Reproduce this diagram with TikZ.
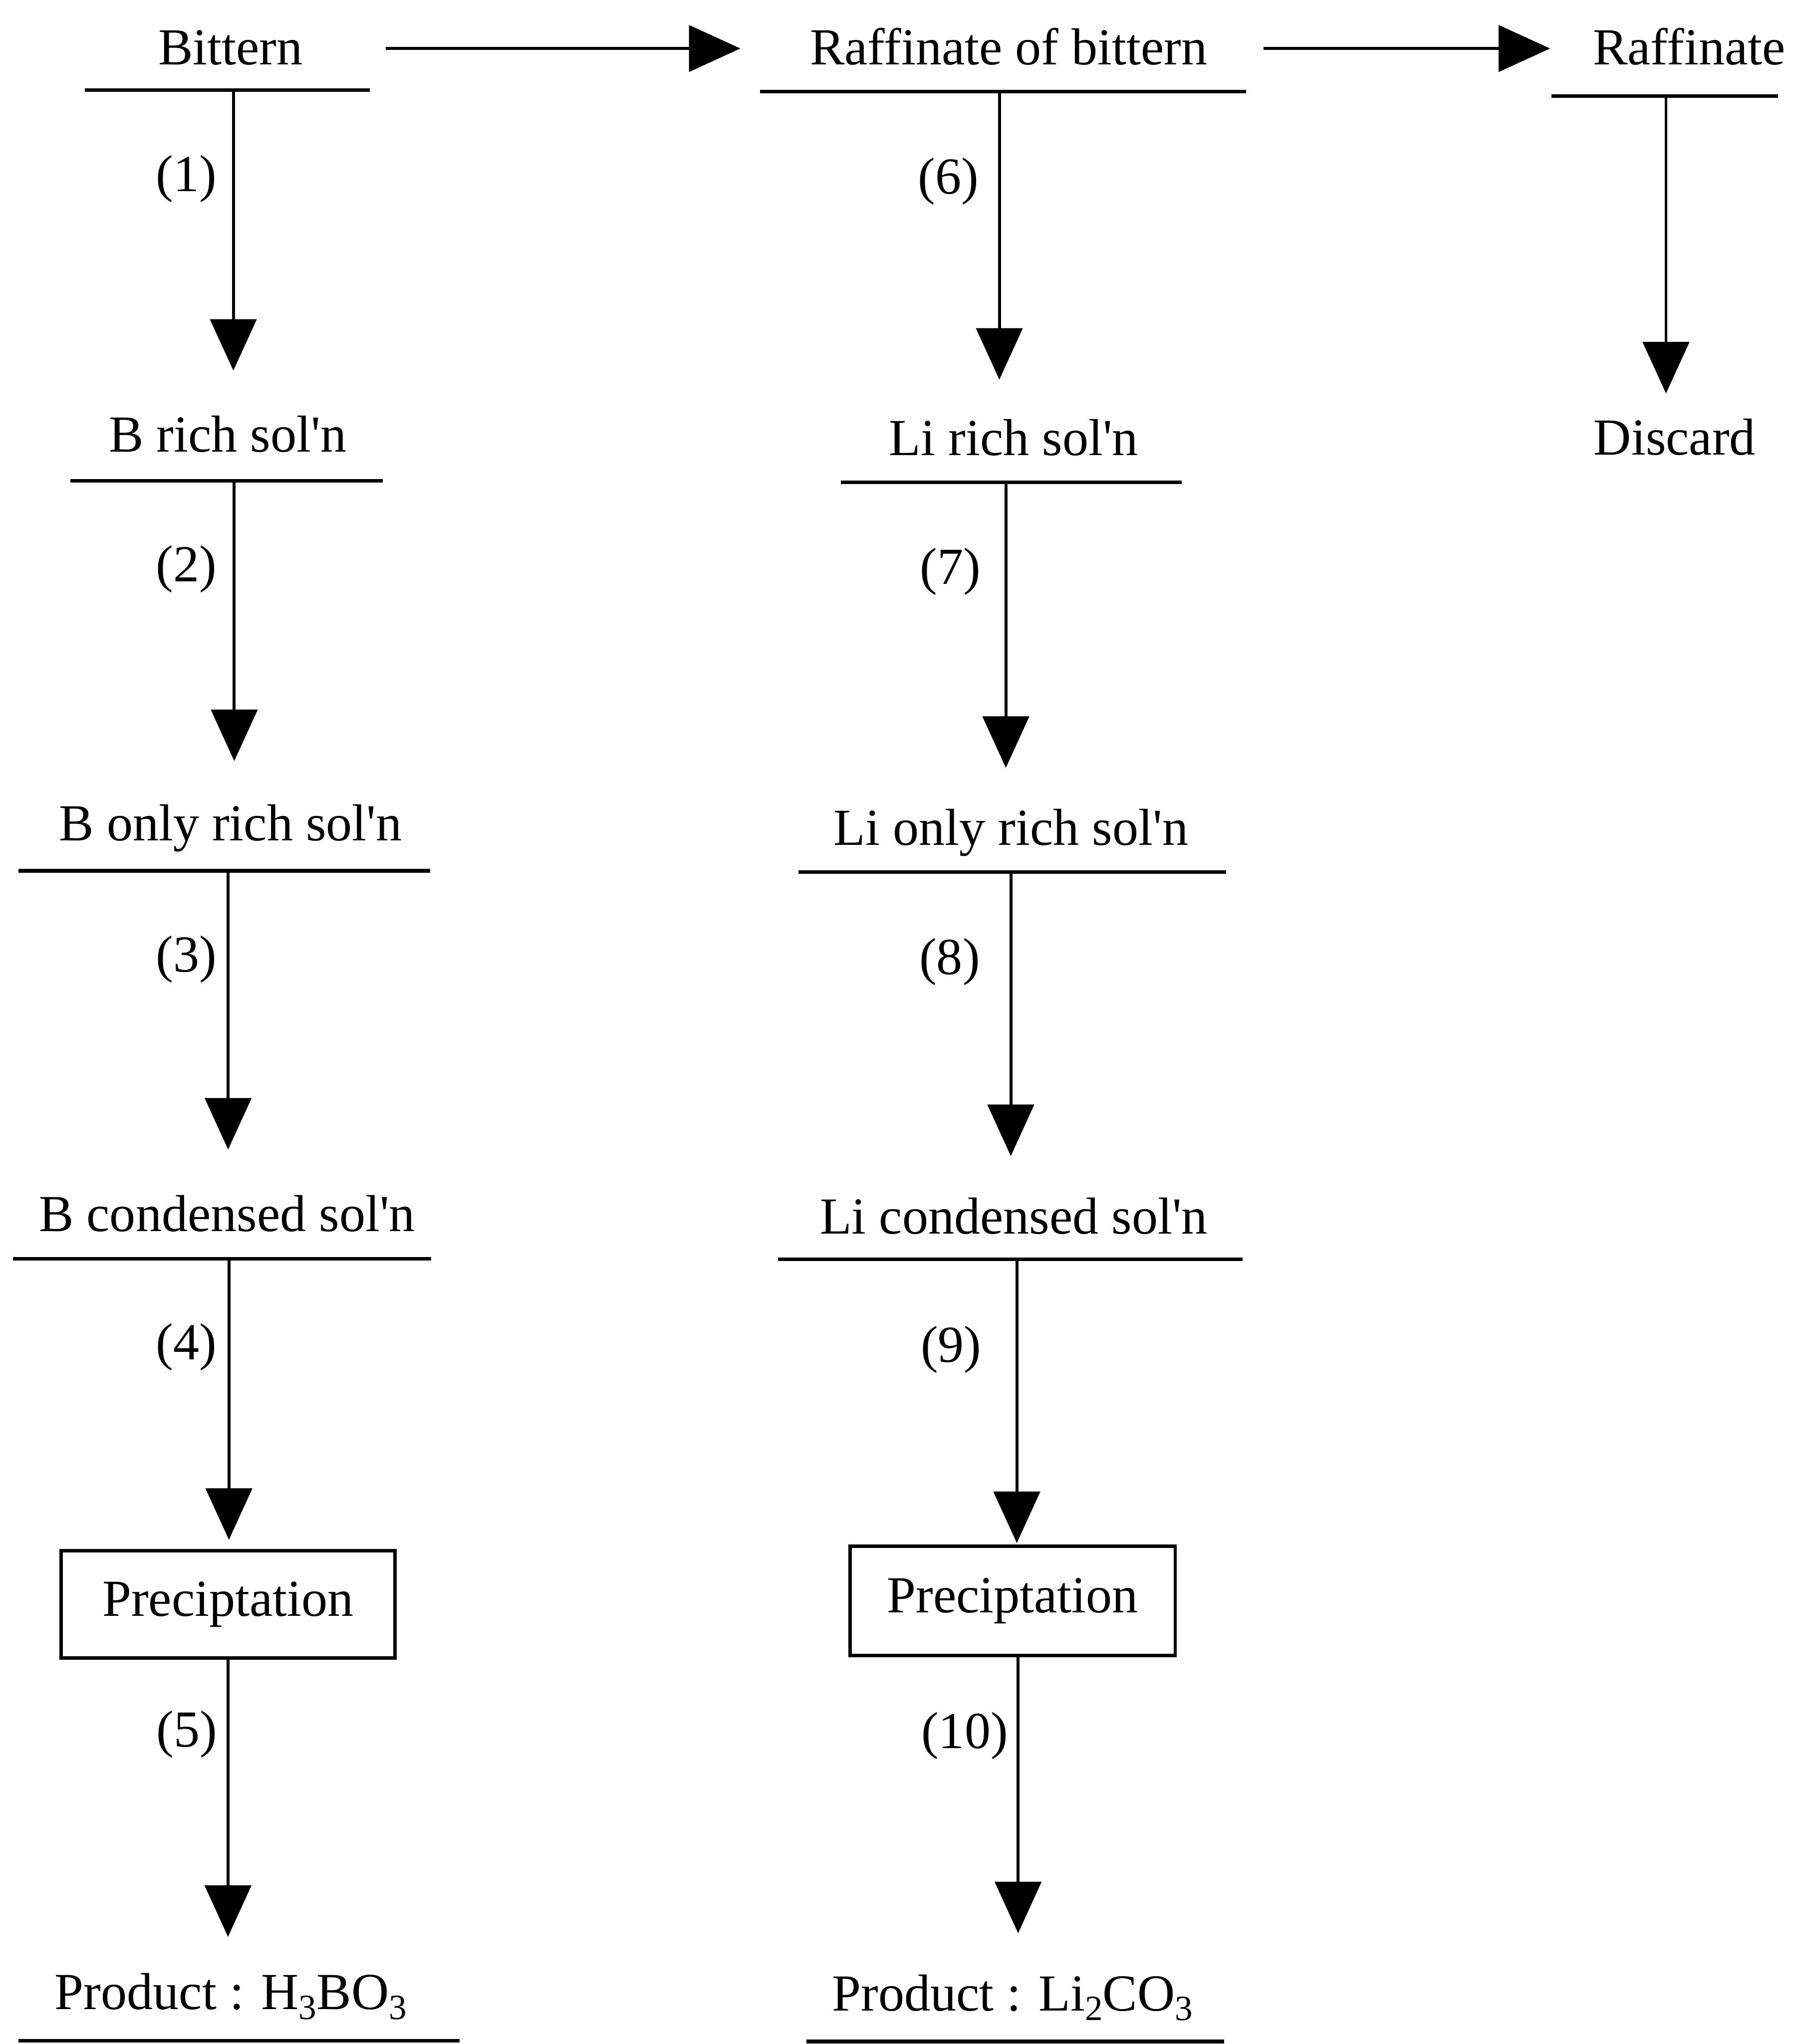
\documentclass[tikz,border=0pt]{standalone}
\usepackage{fontspec}
\setmainfont{Liberation Serif}
\usetikzlibrary{arrows.meta}
\newcommand{\chemsub}[1]{\raisebox{-4.3pt}{\fontsize{15.5}{16}\selectfont #1}}
\newcommand{\apo}{\textquotesingle}
\begin{document}
\begin{tikzpicture}[x=0.02cm,y=-0.02cm,
  txt/.style={inner sep=0pt, anchor=north, text height=16pt, text depth=5pt,
    font=\fontsize{22.7}{27}\selectfont},
  lab/.style={inner sep=0pt, font=\fontsize{22.7}{27}\selectfont},
  uline/.style={line width=1.6pt},
  arr/.style={line width=1.3pt, -{Triangle[length=0.79cm,width=0.71cm]}},
  pbox/.style={draw, line width=1.5pt, inner sep=0pt,
    font=\fontsize{22.7}{27}\selectfont}]
\useasboundingbox (0,0) rectangle (1376,1568);

% ---------- text nodes ----------
\node[txt] (bittern) at (176.8,21) {Bittern};
\node[txt] (raffob)  at (773.8,21) {Raffinate of bittern};
\node[txt] (raff)    at (1295.8,21) {Raffinate};

\node[txt] (brich)   at (174.6,318.3) {B rich sol\apo n};
\node[txt] (lirich)  at (777.6,320.7) {Li rich sol\apo n};
\node[txt] (discard) at (1284.7,320.4) {Discard};

\node[txt] (bonly)   at (176.9,616.5) {B only rich sol\apo n};
\node[txt] (lionly)  at (775.6,619.7) {Li only rich sol\apo n};

\node[txt] (bcond)   at (174.2,916.2) {B condensed sol\apo n};
\node[txt] (licond)  at (777.7,918.1) {Li condensed sol\apo n};

\node[pbox, minimum width=5.126cm, minimum height=1.648cm] (box1) at (174.9,1230.8) {Preciptation};
\node[pbox, minimum width=4.99cm, minimum height=1.68cm] (box2) at (776.8,1228) {Preciptation};

\node[txt] (prodB)  at (177,1512.9) {Product : H\chemsub{3}BO\chemsub{3}};
\node[txt] (prodLi) at (776.7,1513.9) {Product : Li\chemsub{2}CO\chemsub{3}};

% ---------- underlines ----------
\draw[uline] (65,69) -- (283.7,69);
\draw[uline] (583,70.3) -- (956,70.3);
\draw[uline] (1190,73.6) -- (1364,73.6);
\draw[uline] (53.8,368.8) -- (293.5,368.8);
\draw[uline] (644.9,370) -- (906.4,370);
\draw[uline] (14,668) -- (330,668);
\draw[uline] (612.4,669) -- (940.5,669);
\draw[uline] (9.9,965.6) -- (330.6,965.6);
\draw[uline] (596.8,966) -- (953,966);
\draw[uline] (14,1565.4) -- (352.6,1565.4);
\draw[uline] (618.6,1566) -- (939,1566);

% ---------- arrow start points on underlines ----------
\coordinate (s1) at (179,69);
\coordinate (s6) at (766.6,70.3);
\coordinate (sR) at (1278,73.6);
\coordinate (s2) at (179.7,368.8);
\coordinate (s7) at (771.6,370);
\coordinate (s3) at (175,668);
\coordinate (s8) at (775.4,669);
\coordinate (s4) at (175.6,965.6);
\coordinate (s9) at (780,966);

% ---------- horizontal connectors ----------
\draw[arr, shorten <=1.27cm, shorten >=1.06cm]
  ([yshift=0.052cm]bittern.east) -- ([yshift=0.052cm]raffob.west);
\draw[arr, shorten <=0.85cm, shorten >=0.65cm]
  ([yshift=0.052cm]raffob.east) -- ([yshift=0.052cm]raff.west);

% ---------- vertical connectors ----------
\draw[arr, shorten >=0.68cm]  (s1) -- (s1 |- brich.north);
\draw[arr, shorten >=0.59cm]  (s6) -- (s6 |- lirich.north);
\draw[arr, shorten >=0.372cm] (sR) -- (sR |- discard.north);
\draw[arr, shorten >=0.654cm] (s2) -- (s2 |- bonly.north);
\draw[arr, shorten >=0.614cm] (s7) -- (s7 |- lionly.north);
\draw[arr, shorten >=0.688cm] (s3) -- (s3 |- bcond.north);
\draw[arr, shorten >=0.626cm] (s8) -- (s8 |- licond.north);
\draw[arr, shorten >=0.142cm] (s4) -- (s4 |- box1.north);
\draw[arr, shorten >=0.02cm]  (s9) -- (s9 |- box2.north);
\draw[arr, shorten >=0.542cm] (box1.south) -- (box1.south |- prodB.north);
\draw[arr, shorten >=0.618cm] ([xshift=0.084cm]box2.south) -- ([xshift=0.084cm]box2.south |- prodLi.north);

% ---------- step labels ----------
\node[lab] (l1)  at (143,137.4)  {(1)};
\node[lab] (l2)  at (143,436.5)  {(2)};
\node[lab] (l3)  at (143,736)    {(3)};
\node[lab] (l4)  at (143,1033.3) {(4)};
\node[lab] (l5)  at (143.2,1330.6) {(5)};
\node[lab] (l6)  at (727.4,139)  {(6)};
\node[lab] (l7)  at (728.9,438.3) {(7)};
\node[lab] (l8)  at (728.5,738)  {(8)};
\node[lab] (l9)  at (729.6,1035.3) {(9)};
\node[lab] (l10) at (740,1331.7) {(10)};
\end{tikzpicture}
\end{document}
